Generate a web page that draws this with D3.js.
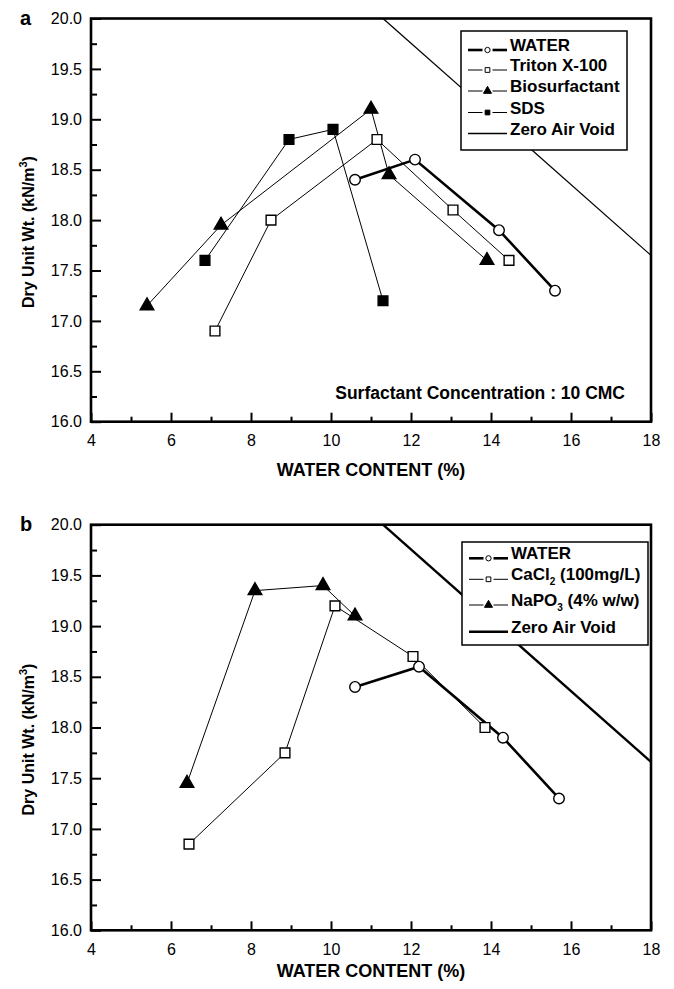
<!DOCTYPE html>
<html>
<head>
<meta charset="utf-8">
<script src="https://cdn.jsdelivr.net/npm/d3@7"></script>
<style>
  body { margin: 0; background: #fff; }
  svg { display: block; font-family: "Liberation Sans", Arial, sans-serif; }
</style>
</head>
<body>
<svg id="chart" width="674" height="989"></svg>
<script>
// ---- data (water content %, dry unit wt kN/m3) ----
// panel a
const waterA  = [[10.6, 18.4], [12.1, 18.6], [14.2, 17.9], [15.6, 17.3]];
const tritonA = [[7.1, 16.9], [8.5, 18.0], [11.15, 18.8], [13.05, 18.1], [14.45, 17.6]];
const bioA    = [[5.4, 17.15], [7.25, 17.95], [11.0, 19.1], [11.45, 18.45], [13.9, 17.6]];
const sdsA    = [[6.85, 17.6], [8.95, 18.8], [10.05, 18.9], [11.3, 17.2]];
const zavA    = [[11.3, 20.0], [18.0, 17.65]];
// panel b
const waterB  = [[10.6, 18.4], [12.2, 18.6], [14.3, 17.9], [15.7, 17.3]];
const cacl2B  = [[6.45, 16.85], [8.85, 17.75], [10.1, 19.2], [12.05, 18.7], [13.85, 18.0]];
const napo3B  = [[6.4, 17.45], [8.1, 19.35], [9.8, 19.4], [10.6, 19.1]];
const zavB    = [[11.3, 20.0], [18.0, 17.66]];

// ticks
const xTicks = [4, 6, 8, 10, 12, 14, 16, 18];
const xMinorTicks = [5, 7, 9, 11, 13, 15, 17];
const yTicks = [16.0, 16.5, 17.0, 17.5, 18.0, 18.5, 19.0, 19.5, 20.0];
const yMinorTicks = [16.25, 16.75, 17.25, 17.75, 18.25, 18.75, 19.25, 19.75];

const svg = d3.select('#chart');
const symbols = { circle: d3.symbolCircle, square: d3.symbolSquare, triangle: d3.symbolTriangle };
const plotSizes = { circle: 88, square: 95, triangle: 80 };
const legendSizes = { circle: 22, square: 22, triangle: 28 };

const panels = [
    {
        letter: 'a', top: 18.5, bottom: 421.7, letterY: 25, titleY: 476,
        legend: { x: 461, y: 31, w: 166, h: 119, rows: [19, 39, 60, 81.5, 102.5] },
        note: 'Surfactant Concentration : 10 CMC',
        series: [
            { label: [['WATER']], data: waterA, shape: 'circle', fill: '#fff', width: 2.6 },
            { label: [['Triton X-100']], data: tritonA, shape: 'square', fill: '#fff', width: 1 },
            { label: [['Biosurfactant']], data: bioA, shape: 'triangle', fill: '#000', width: 1 },
            { label: [['SDS']], data: sdsA, shape: 'square', fill: '#000', width: 1 },
            { label: [['Zero Air Void']], data: zavA, shape: null, width: 1.3 },
        ],
    },
    {
        letter: 'b', top: 524.7, bottom: 930.3, letterY: 531, titleY: 977,
        legend: { x: 462, y: 542, w: 186, h: 103, rows: [16.3, 37.3, 63, 89.7] },
        note: null,
        series: [
            { label: [['WATER']], data: waterB, shape: 'circle', fill: '#fff', width: 2.6 },
            { label: [['CaCl'], ['2', 'sub'], [' (100mg/L)']], data: cacl2B, shape: 'square', fill: '#fff', width: 1 },
            { label: [['NaPO'], ['3', 'sub'], [' (4% w/w)']], data: napo3B, shape: 'triangle', fill: '#000', width: 1 },
            { label: [['Zero Air Void']], data: zavB, shape: null, width: 2.4 },
        ],
    },
];

const left = 91, right = 651;

panels.forEach(p => drawPanel(p));

function drawPanel(p){
    const x = d3.scaleLinear().domain([4, 18]).range([left, right]);
    const y = d3.scaleLinear().domain([16, 20]).range([p.bottom, p.top]);
    const g = svg.append('g');

    // Axes (ticks inward)
    g.append('g').attr('transform', `translate(0,${p.bottom})`)
        .call(d3.axisBottom(x).tickValues(xTicks).tickFormat(d3.format('d')).tickSize(-9).tickPadding(13));
    g.append('g').attr('transform', `translate(0,${p.bottom})`)
        .call(d3.axisBottom(x).tickValues(xMinorTicks).tickFormat('').tickSize(-5));
    g.append('g').attr('transform', `translate(${left},0)`)
        .call(d3.axisLeft(y).tickValues(yTicks).tickFormat(d3.format('.1f')).tickSize(-10).tickPadding(9));
    g.append('g').attr('transform', `translate(${left},0)`)
        .call(d3.axisLeft(y).tickValues(yMinorTicks).tickFormat('').tickSize(-6));

    g.selectAll('.domain').remove();
    g.selectAll('.tick line').attr('stroke', '#000').attr('stroke-width', 2);
    g.selectAll('.tick text').attr('fill', '#000').style('font-size', '16px')
        .style('font-family', '"Liberation Sans", Arial, sans-serif');

    // Frame
    g.append('rect')
        .attr('x', left).attr('y', p.top)
        .attr('width', right - left).attr('height', p.bottom - p.top)
        .attr('fill', 'none').attr('stroke', '#000').attr('stroke-width', 2.6);

    // Series lines
    const line = d3.line().x(d => x(d[0])).y(d => y(d[1]));
    g.selectAll('path.series').data(p.series).enter()
        .append('path').attr('class', 'series')
        .attr('d', d => line(d.data))
        .attr('fill', 'none').attr('stroke', '#000')
        .attr('stroke-width', d => d.width);

    // Markers
    p.series.filter(s => s.shape).forEach(s => {
        g.selectAll(null).data(s.data).enter()
            .append('path')
            .attr('transform', d => `translate(${x(d[0])},${y(d[1])})`)
            .attr('d', d3.symbol().type(symbols[s.shape]).size(plotSizes[s.shape]))
            .attr('fill', s.fill).attr('stroke', '#000').attr('stroke-width', 1.4);
    });

    // Legend
    const L = p.legend;
    const lg = g.append('g').attr('transform', `translate(${L.x},${L.y})`);
    lg.append('rect').attr('width', L.w).attr('height', L.h)
        .attr('fill', '#fff').attr('stroke', '#000').attr('stroke-width', 1.5);
    const rows = lg.selectAll('g.row').data(p.series).enter()
        .append('g').attr('class', 'row')
        .attr('transform', (d, i) => `translate(0,${L.rows[i]})`);
    // sample line, with a small gap either side of the marker
    rows.each(function(d){
        const r = d3.select(this);
        const segs = d.shape ? [[7, 21.5], [31.5, 46]] : [[7, 46]];
        segs.forEach(([a, b]) => r.append('line')
            .attr('x1', a).attr('x2', b).attr('y1', 0).attr('y2', 0)
            .attr('stroke', '#000').attr('stroke-width', d.width));
    });
    rows.filter(d => d.shape).append('path')
        .attr('transform', 'translate(26.5,0)')
        .attr('d', d => d3.symbol().type(symbols[d.shape]).size(legendSizes[d.shape])())
        .attr('fill', d => d.fill).attr('stroke', '#000').attr('stroke-width', 1);
    const txt = rows.append('text').attr('x', 49).attr('y', 6)
        .style('font-size', '17px').style('font-weight', 'bold');
    txt.each(function(d){
        const t = d3.select(this);
        d.label.forEach(([s, kind]) => {
            if (kind === 'sub') t.append('tspan').attr('dy', 5).style('font-size', '10px').text(s);
            else t.append('tspan').attr('dy', t.selectAll('tspan').size() ? -5 : 0).text(s);
        });
    });

    // Annotation
    if (p.note) {
        g.append('text').attr('x', 625).attr('y', p.bottom - 23)
            .attr('text-anchor', 'end')
            .style('font-size', '17.5px').style('font-weight', 'bold')
            .text(p.note);
    }

    // Axis titles
    g.append('text').attr('x', (left + right) / 2).attr('y', p.titleY)
        .attr('text-anchor', 'middle')
        .style('font-size', '18px').style('font-weight', 'bold')
        .text('WATER CONTENT (%)');

    const yt = g.append('text')
        .attr('transform', `translate(34,${(p.top + p.bottom) / 2 + 12}) rotate(-90)`)
        .attr('text-anchor', 'middle')
        .style('font-size', '16px').style('font-weight', 'bold');
    yt.append('tspan').text('Dry Unit Wt. (kN/m');
    yt.append('tspan').attr('dy', -7).style('font-size', '11px').text('3');
    yt.append('tspan').attr('dy', 7).text(')');

    // Panel letter
    g.append('text').attr('x', 20).attr('y', p.letterY)
        .style('font-size', '20px').style('font-weight', 'bold')
        .text(p.letter);
}
</script>
</body>
</html>
